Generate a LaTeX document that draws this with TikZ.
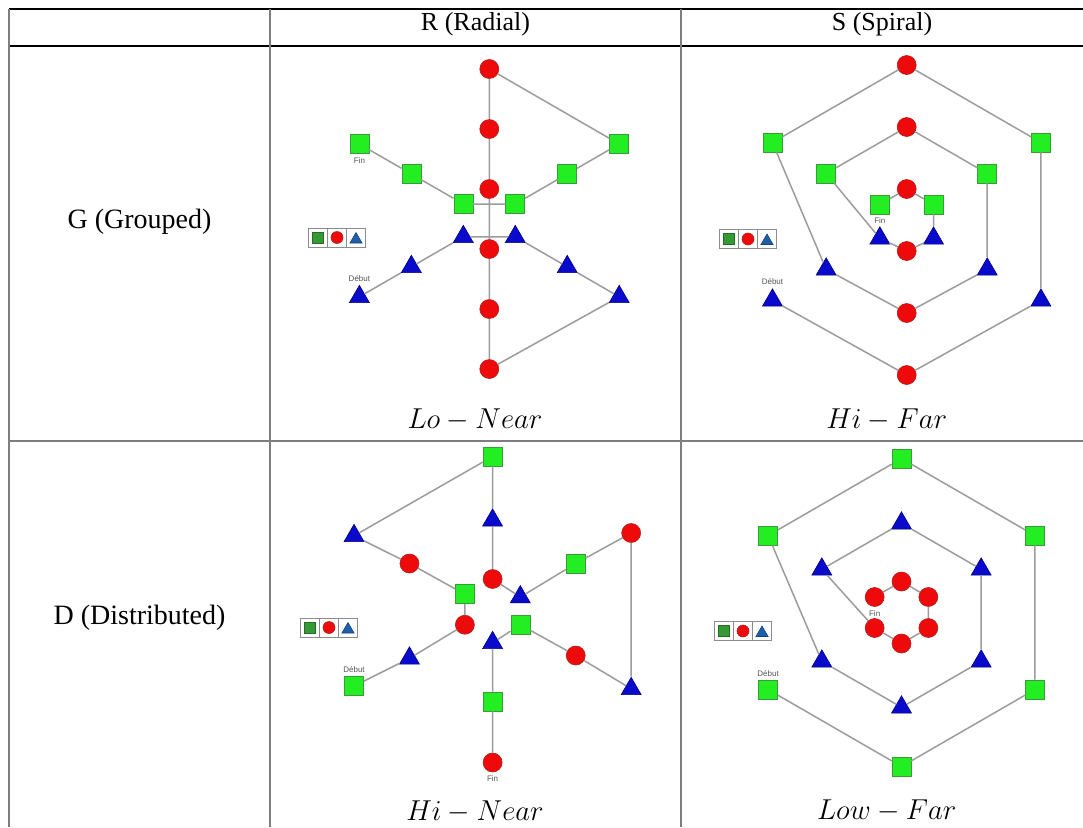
\documentclass[tikz,border=0pt]{standalone}
\usepackage{fontspec}
\setmainfont{Liberation Serif}
\setsansfont{Liberation Sans}
\usetikzlibrary{shapes.geometric, positioning}

\definecolor{sqgreen}{HTML}{22EE22}
\definecolor{sqedge}{HTML}{3C9A3C}
\definecolor{cired}{HTML}{EE0A0A}
\definecolor{ciedge}{HTML}{B02020}
\definecolor{trblue}{HTML}{0A0ACC}
\definecolor{tredge}{HTML}{000080}
\definecolor{linkgray}{HTML}{9C9C9C}
\definecolor{rulegray}{HTML}{7E7E7E}
\definecolor{leggray}{HTML}{8C8C8C}
\definecolor{taggray}{HTML}{555555}
\definecolor{keygreen}{HTML}{359A35}
\definecolor{keyblue}{HTML}{1F5FAA}

\begin{document}
\begin{tikzpicture}[
    x=0.5pt, y=-0.5pt,
    sq/.style={rectangle, draw=sqedge, fill=sqgreen, line width=0.3pt, minimum size=9.5pt, inner sep=0pt},
    ci/.style={circle, draw=ciedge, fill=cired, line width=0.3pt, minimum size=9.5pt, inner sep=0pt},
    tr/.style={regular polygon, regular polygon sides=3, draw=tredge, fill=trblue, line width=0.3pt, minimum size=11.5pt, inner sep=0pt, yshift=-1.4pt},
    link/.style={draw=linkgray, line width=0.75pt},
    rule/.style={draw=rulegray, line width=1pt},
    tag/.style={font=\sffamily\fontsize{4}{5}\selectfont, text=taggray, inner sep=0.5pt},
    head/.style={font=\fontsize{13}{15}\selectfont},
    rowhead/.style={font=\fontsize{14}{16}\selectfont},
    caption/.style={font=\fontsize{14.5}{17}\selectfont},
    legcell/.style={rectangle, draw=leggray, line width=0.5pt, fill=white, minimum size=9.5pt, inner sep=0pt, outer sep=0pt}
]

\fill[white] (0,0) rectangle (1083,827);
\useasboundingbox (0,0) rectangle (1083,827);

% Table rules
\draw[black, line width=0.6pt] (9,9) -- (1083,9);
\draw[black, line width=0.6pt] (9,46) -- (1083,46);
\draw[rule] (9,441) -- (1083,441);
\foreach \x in {9,270,681}
  \draw[rule] (\x,9) -- (\x,827);

% Headers
\node[head] (col-r) at (475.5,24) {R (Radial)};
\node[head] (col-s) at (882,24) {S (Spiral)};
\node[rowhead] (row-g) at (139.5,222) {G (Grouped)};
\node[rowhead] (row-d) at (139.5,618) {D (Distributed)};

% Cell G-R
\begin{scope}[shift={(489.3,219)}, y=0.5pt]
\foreach \a/\s in {90/ci, 30/sq, 330/tr, 270/ci, 210/tr, 150/sq}{
  \node[\s] (gr-\a-1) at (\a:30) {};
  \node[\s] (gr-\a-2) at (\a:90) {};
  \node[\s] (gr-\a-3) at (\a:150) {};
}
\end{scope}
\draw[link] (gr-210-3) -- (gr-210-2) -- (gr-210-1) -- (gr-330-1) -- (gr-330-2) -- (gr-330-3)
  -- (gr-270-3) -- (gr-270-2) -- (gr-270-1) -- (gr-90-1) -- (gr-90-2) -- (gr-90-3)
  -- (gr-30-3) -- (gr-30-2) -- (gr-30-1) -- (gr-150-1) -- (gr-150-2) -- (gr-150-3);
\node[tag, above=1pt of gr-210-3] (gr-start) {Début};
\node[tag, below=1pt of gr-150-3] (gr-end) {Fin};
\node[caption] (gr-cap) at (475,420) {$Lo-Near$};

% Cell G-S
\begin{scope}[shift={(906.7,220)}, y=0.5pt]
\foreach \a/\s in {90/ci, 30/sq, 330/tr, 270/ci, 210/tr, 150/sq}{
  \node[\s] (gs-\a-1) at (\a:31) {};
  \node[\s] (gs-\a-2) at (\a:93) {};
  \node[\s] (gs-\a-3) at (\a:155) {};
}
\end{scope}
\draw[link] (gs-210-3) -- (gs-270-3) -- (gs-330-3) -- (gs-30-3) -- (gs-90-3) -- (gs-150-3)
  -- (gs-210-2) -- (gs-270-2) -- (gs-330-2) -- (gs-30-2) -- (gs-90-2) -- (gs-150-2)
  -- (gs-210-1) -- (gs-270-1) -- (gs-330-1) -- (gs-30-1) -- (gs-90-1) -- (gs-150-1);
\node[tag, above=1pt of gs-210-3] (gs-start) {Début};
\node[tag, below=1pt of gs-150-1] (gs-end) {Fin};
\node[caption] (gs-cap) at (886.7,420) {$Hi-Far$};

% Cell D-R
\begin{scope}[shift={(492.6,609.5)}, y=0.5pt]
\foreach \a/\s/\t/\u in {90/ci/tr/sq, 30/tr/sq/ci, 330/sq/ci/tr, 270/tr/sq/ci, 210/ci/tr/sq, 150/sq/ci/tr}{
  \node[\s] (dr-\a-1) at (\a:32 and 30.5) {};
  \node[\t] (dr-\a-2) at (\a:96 and 92) {};
  \node[\u] (dr-\a-3) at (\a:160 and 153) {};
}
\end{scope}
\draw[link] (dr-210-3) -- (dr-210-2) -- (dr-210-1) -- (dr-150-1) -- (dr-150-2) -- (dr-150-3)
  -- (dr-90-3) -- (dr-90-2) -- (dr-90-1) -- (dr-30-1) -- (dr-30-2) -- (dr-30-3)
  -- (dr-330-3) -- (dr-330-2) -- (dr-330-1) -- (dr-270-1) -- (dr-270-2) -- (dr-270-3);
\node[tag, above=1pt of dr-210-3] (dr-start) {Début};
\node[tag, below=1pt of dr-270-3] (dr-end) {Fin};
\node[caption] (dr-cap) at (475,812) {$Hi-Near$};

% Cell D-S
\begin{scope}[shift={(901.5,612.5)}, y=0.5pt]
\foreach \a in {90, 30, 330, 270, 210, 150}{
  \node[ci] (ds-\a-1) at (\a:31) {};
  \node[tr] (ds-\a-2) at (\a:92) {};
  \node[sq] (ds-\a-3) at (\a:154) {};
}
\end{scope}
\draw[link] (ds-210-3) -- (ds-270-3) -- (ds-330-3) -- (ds-30-3) -- (ds-90-3) -- (ds-150-3)
  -- (ds-210-2) -- (ds-270-2) -- (ds-330-2) -- (ds-30-2) -- (ds-90-2) -- (ds-150-2)
  -- (ds-210-1) -- (ds-270-1) -- (ds-330-1) -- (ds-30-1) -- (ds-90-1) -- (ds-150-1);
\node[tag, above=1pt of ds-210-3] (ds-start) {Début};
\node[tag, below=1pt of ds-150-1] (ds-end) {Fin};
\node[caption] (ds-cap) at (886.7,811) {$Low-Far$};

% Legends
\foreach \n/\x/\y in {gr/337/237.5, gs/748/239, dr/329/627.5, ds/743/631}{
  \node[legcell] (\n-key2) at (\x,\y) {};
  \node[legcell, left=0pt of \n-key2] (\n-key1) {};
  \node[legcell, right=0pt of \n-key2] (\n-key3) {};
  \node[sq, draw=keygreen!70!black, fill=keygreen, minimum size=5.5pt] (\n-keysq) at (\n-key1) {};
  \node[ci, minimum size=6pt] (\n-keyci) at (\n-key2) {};
  \node[tr, draw=keyblue!70!black, fill=keyblue, minimum size=7pt, yshift=0.4pt] (\n-keytr) at (\n-key3) {};
}

\end{tikzpicture}
\end{document}
